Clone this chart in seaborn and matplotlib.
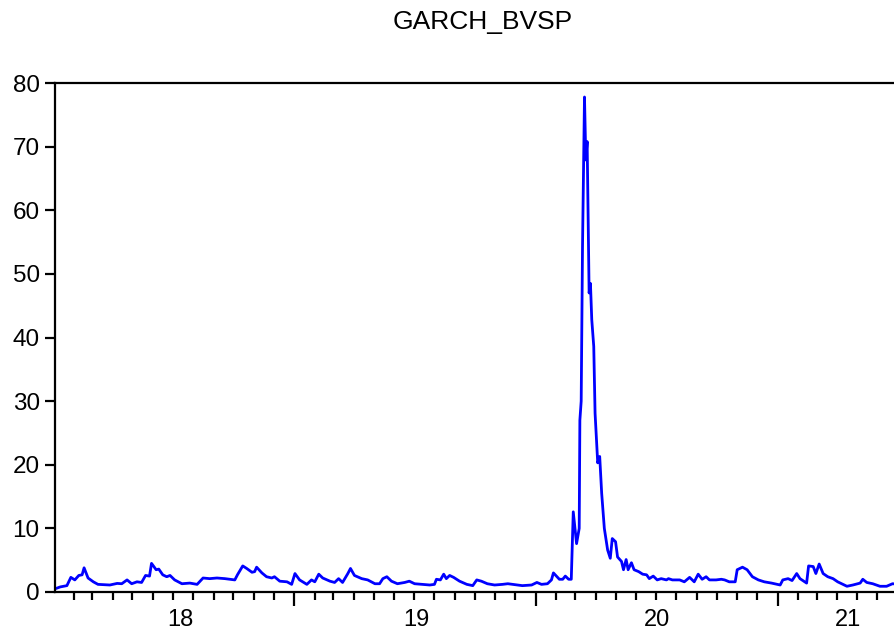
import pandas as pd
import seaborn as sns
import matplotlib.pyplot as plt
import matplotlib.dates as mdates
import matplotlib.transforms as mtransforms

# GARCH conditional variance of BVSP
dates_2018 = ["2018-01-04", "2018-01-12", "2018-01-22", "2018-01-28", "2018-02-03", "2018-02-09",
              "2018-02-14", "2018-02-17", "2018-02-23", "2018-03-03", "2018-03-10", "2018-03-28",
              "2018-04-08", "2018-04-15", "2018-04-23", "2018-04-30", "2018-05-08", "2018-05-15",
              "2018-05-21", "2018-05-27", "2018-05-30", "2018-06-06", "2018-06-10", "2018-06-16",
              "2018-06-22", "2018-06-27", "2018-07-04", "2018-07-15", "2018-07-27", "2018-08-07",
              "2018-08-16", "2018-08-26", "2018-09-06", "2018-09-18", "2018-10-03", "2018-10-07",
              "2018-10-15", "2018-10-21", "2018-10-29", "2018-11-02", "2018-11-05", "2018-11-13",
              "2018-11-20", "2018-11-28", "2018-12-02", "2018-12-10", "2018-12-21", "2018-12-28"]
values_2018 = [0.5, 0.8, 1.0, 2.3, 1.9, 2.6,
               2.7, 3.8, 2.2, 1.6, 1.2, 1.1,
               1.35, 1.3, 1.9, 1.3, 1.6, 1.5,
               2.6, 2.5, 4.5, 3.5, 3.6, 2.7,
               2.4, 2.6, 1.9, 1.3, 1.4, 1.2,
               2.2, 2.1, 2.2, 2.1, 1.9, 2.7,
               4.1, 3.7, 3.1, 3.2, 3.9, 3.0,
               2.4, 2.2, 2.4, 1.7, 1.6, 1.2]

dates_2019 = ["2019-01-02", "2019-01-09", "2019-01-20", "2019-01-27", "2019-02-01", "2019-02-07",
              "2019-02-13", "2019-02-24", "2019-03-03", "2019-03-09", "2019-03-15", "2019-03-23",
              "2019-03-27", "2019-04-02", "2019-04-13", "2019-04-22", "2019-05-03", "2019-05-10",
              "2019-05-15", "2019-05-21", "2019-05-28", "2019-06-06", "2019-06-17", "2019-06-24",
              "2019-07-02", "2019-07-14", "2019-07-25", "2019-08-01", "2019-08-04", "2019-08-10",
              "2019-08-15", "2019-08-19", "2019-08-24", "2019-08-30", "2019-09-08", "2019-09-19",
              "2019-09-28", "2019-10-04", "2019-10-11", "2019-10-20", "2019-10-31", "2019-11-12",
              "2019-11-20", "2019-11-27", "2019-12-12", "2019-12-26"]
values_2019 = [2.9, 1.9, 1.2, 1.9, 1.6, 2.8,
               2.2, 1.7, 1.5, 2.1, 1.5, 2.9,
               3.7, 2.6, 2.1, 1.9, 1.3, 1.3,
               2.1, 2.4, 1.7, 1.3, 1.5, 1.7,
               1.3, 1.2, 1.1, 1.2, 2.0, 1.9,
               2.8, 2.1, 2.6, 2.3, 1.7, 1.2,
               1.0, 1.9, 1.7, 1.3, 1.1, 1.2,
               1.3, 1.2, 1.0, 1.1]

dates_2020 = ["2020-01-03", "2020-01-10", "2020-01-19", "2020-01-25", "2020-01-28", "2020-02-06",
              "2020-02-11", "2020-02-15", "2020-02-20", "2020-02-24", "2020-02-27", "2020-03-03",
              "2020-03-07", "2020-03-08", "2020-03-10", "2020-03-12", "2020-03-15", "2020-03-17",
              "2020-03-19", "2020-03-22", "2020-03-24", "2020-03-26", "2020-03-29", "2020-03-31",
              "2020-04-04", "2020-04-07", "2020-04-10", "2020-04-14", "2020-04-19", "2020-04-23",
              "2020-04-26", "2020-05-01", "2020-05-04", "2020-05-10", "2020-05-13", "2020-05-17",
              "2020-05-20", "2020-05-25", "2020-05-29", "2020-06-05", "2020-06-11", "2020-06-17",
              "2020-06-21", "2020-06-27", "2020-07-03", "2020-07-09", "2020-07-17", "2020-07-20",
              "2020-07-26", "2020-08-06", "2020-08-13", "2020-08-21", "2020-08-28", "2020-09-03",
              "2020-09-09", "2020-09-15", "2020-09-20", "2020-09-30", "2020-10-08", "2020-10-13",
              "2020-10-20", "2020-10-29", "2020-11-01", "2020-11-09", "2020-11-16", "2020-11-24",
              "2020-12-03", "2020-12-12", "2020-12-23"]
values_2020 = [1.5, 1.2, 1.3, 1.9, 3.0, 2.0,
               2.0, 2.5, 2.0, 2.0, 12.6, 7.6,
               10.0, 27.0, 30.0, 54.3, 77.8, 67.9,
               70.8, 47.0, 48.5, 42.8, 38.6, 28.1,
               20.3, 21.3, 15.5, 10.0, 6.6, 5.3,
               8.4, 7.9, 5.5, 4.8, 3.5, 5.1,
               3.5, 4.6, 3.5, 3.2, 2.8, 2.7,
               2.1, 2.5, 1.9, 2.1, 1.9, 2.1,
               1.9, 1.9, 1.6, 2.3, 1.6, 2.8,
               2.0, 2.4, 1.9, 1.9, 2.0, 1.9,
               1.6, 1.6, 3.5, 3.9, 3.5, 2.4,
               1.9, 1.6, 1.4]

dates_2021 = ["2021-01-05", "2021-01-09", "2021-01-17", "2021-01-23", "2021-01-30", "2021-02-04",
              "2021-02-14", "2021-02-17", "2021-02-24", "2021-02-28", "2021-03-05", "2021-03-11",
              "2021-03-18", "2021-03-26", "2021-04-02", "2021-04-16", "2021-04-25", "2021-05-06",
              "2021-05-10", "2021-05-16", "2021-05-25", "2021-06-05", "2021-06-15", "2021-06-24",
              "2021-07-05", "2021-07-30"]
values_2021 = [1.1, 1.9, 2.1, 1.8, 2.9, 2.1,
               1.4, 4.1, 4.0, 2.9, 4.4, 2.9,
               2.4, 2.1, 1.6, 0.9, 1.1, 1.4,
               2.0, 1.5, 1.3, 0.9, 0.9, 1.3,
               1.2, 1.2]

year_labels = ["18", "19", "20", "21"]
year_label_dates = ["2018-07-13", "2019-07-04", "2020-07-02", "2021-04-17"]

df = pd.DataFrame({
    "date": pd.to_datetime(dates_2018 + dates_2019 + dates_2020 + dates_2021),
    "garch": values_2018 + values_2019 + values_2020 + values_2021,
})

sns.set_style("white")
plt.rcParams["font.family"] = ["Liberation Sans", "DejaVu Sans"]
plt.rcParams["text.color"] = "black"
plt.rcParams["xtick.color"] = "black"
plt.rcParams["ytick.color"] = "black"

fig = plt.figure(figsize=(8.95, 6.31), dpi=100)
ax = fig.add_axes([55 / 895, 39 / 631, 862 / 895, 509 / 631])

sns.lineplot(data=df, x="date", y="garch", color="#0000FF", linewidth=2.0, ax=ax)

ax.set_xlim(pd.Timestamp("2018-01-04"), pd.Timestamp("2021-07-31"))
ax.set_ylim(0, 80)
ax.set_yticks(range(0, 81, 10))
ax.set_xlabel("")
ax.set_ylabel("")

for s in ax.spines.values():
    s.set_linewidth(1.6)
    s.set_color("black")

ax.xaxis.set_major_locator(mdates.YearLocator())
ax.xaxis.set_minor_locator(mdates.MonthLocator())
ax.xaxis.set_major_formatter(plt.NullFormatter())
ax.xaxis.set_minor_formatter(plt.NullFormatter())
ax.tick_params(axis="x", which="both", bottom=True)
ax.tick_params(axis="x", which="major", direction="out", length=10, width=1.6, color="black")
ax.tick_params(axis="x", which="minor", direction="out", length=5.5, width=1.6, color="black")
ax.tick_params(axis="y", left=True, direction="out", length=7.5, width=1.6, color="black",
               labelsize=17.5, labelcolor="black", pad=3.5)

# year labels sit between the long year ticks
trans = mtransforms.blended_transform_factory(ax.transData, ax.transAxes)
for lab, d in zip(year_labels, year_label_dates):
    ax.text(mdates.date2num(pd.Timestamp(d)), -(626 - 592) / 509, lab, transform=trans,
            ha="center", va="baseline", fontsize=17, color="black")

fig.text(483 / 895, 1 - 22 / 631, "GARCH_BVSP", ha="center", va="center",
         fontsize=19, color="black")

fig.savefig("out.png", dpi=100)
